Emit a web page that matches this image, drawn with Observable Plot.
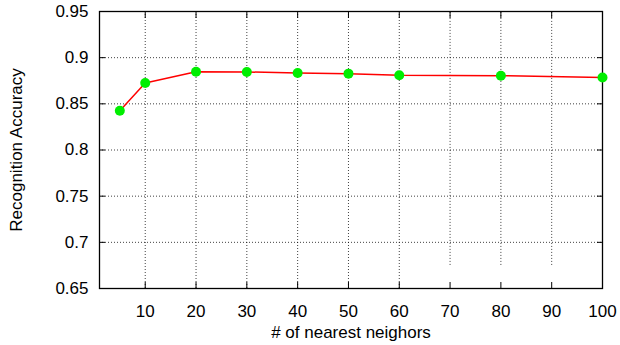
<!DOCTYPE html>
<html>
<head>
<meta charset="utf-8">
<script src="https://cdn.jsdelivr.net/npm/d3@7"></script>
<script src="https://cdn.jsdelivr.net/npm/@observablehq/plot@0.6"></script>
<style>
  html, body { margin: 0; padding: 0; background: #fff; }
  svg { display: block; }
</style>
</head>
<body>
<div id="chart"></div>
<script>
const neighbors = [5, 10, 20, 30, 40, 50, 60, 80, 100];
const accuracy = [0.8425, 0.8726, 0.8848, 0.8845, 0.8834, 0.8827, 0.8810, 0.8805, 0.8785];
const xTicks = [10, 20, 30, 40, 50, 60, 70, 80, 90, 100];
const yTicks = [0.65, 0.7, 0.75, 0.8, 0.85, 0.9, 0.95];
const yTickLabels = ["0.65", "0.7", "0.75", "0.8", "0.85", "0.9", "0.95"];
const keyGapTicks = [70, 80, 90];
const keyGapBottom = 0.675;

const data = neighbors.map((n, i) => ({n, acc: accuracy[i]}));
const font = "Liberation Sans, Arial, Helvetica, sans-serif";

const chart = Plot.plot({
  width: 620,
  height: 345,
  marginLeft: 99,
  marginRight: 18,
  marginTop: 11,
  marginBottom: 57,
  style: {fontFamily: font, fontSize: "17px", color: "#000", background: "#fff"},
  x: {domain: [1, 100]},
  y: {domain: [0.65, 0.95]},
  marks: [
    Plot.ruleX(xTicks.filter(d => d < 100), {
      x: d => d,
      y1: d => keyGapTicks.includes(d) ? keyGapBottom : 0.65,
      y2: 0.95,
      stroke: "#000", strokeOpacity: 0.75, strokeWidth: 1, strokeDasharray: "1,2"
    }),
    Plot.ruleY(yTicks.filter(d => d > 0.65 && d < 0.95), {
      y: d => d, stroke: "#000", strokeOpacity: 0.75, strokeWidth: 1, strokeDasharray: "1,2"
    }),
    Plot.axisX(xTicks, {anchor: "bottom", tickSize: -6, tickPadding: 22, fontSize: 17,
      label: "# of nearest neighors", labelAnchor: "center", labelArrow: "none", labelOffset: 49}),
    Plot.axisX(xTicks, {anchor: "top", tickSize: -6, text: null, label: null}),
    Plot.axisY(yTicks, {anchor: "left", tickSize: -6, tickPadding: 17, fontSize: 17,
      tickFormat: (d, i) => yTickLabels[i],
      label: "Recognition Accuracy", labelAnchor: "center", labelArrow: "none", labelOffset: 90}),
    Plot.axisY(yTicks, {anchor: "right", tickSize: -6, text: null, label: null}),
    Plot.frame({stroke: "#000", strokeWidth: 1.3}),
    Plot.line(data, {x: "n", y: "acc", stroke: "#ff0000", strokeWidth: 1.5}),
    Plot.dot(data, {x: "n", y: "acc", r: 5, fill: "#00ee00", stroke: "none"})
  ]
});
document.getElementById("chart").appendChild(chart);
</script>
</body>
</html>
